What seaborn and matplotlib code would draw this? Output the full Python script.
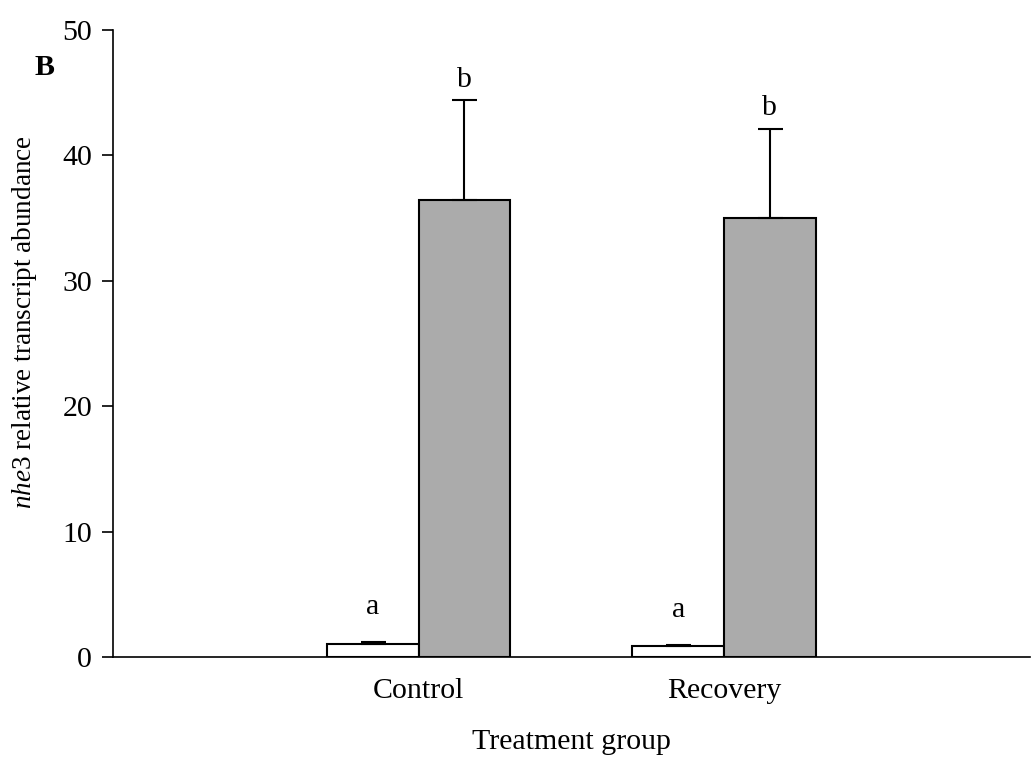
import matplotlib
matplotlib.use("Agg")
import matplotlib.pyplot as plt
import seaborn as sns
import pandas as pd
import numpy as np

groups = ["Control", "Recovery"]
conditions = ["Low", "High"]
low_means = [1.05, 0.85]
low_err = [0.12, 0.1]
high_means = [36.45, 35.0]
high_err = [7.95, 7.15]
letters_low = ["a", "a"]
letters_high = ["b", "b"]

df = pd.DataFrame({
    "group": groups * 2,
    "cond": [conditions[0]] * 2 + [conditions[1]] * 2,
    "value": low_means + high_means,
    "err": low_err + high_err,
    "letter": letters_low + letters_high,
})

sns.set_style("ticks")
plt.rcParams["font.family"] = ["Liberation Serif", "DejaVu Serif"]
plt.rcParams["mathtext.fontset"] = "custom"
plt.rcParams["mathtext.it"] = "Liberation Serif:italic"
plt.rcParams["mathtext.rm"] = "Liberation Serif"
plt.rcParams["text.color"] = "black"
plt.rcParams["axes.labelcolor"] = "black"
plt.rcParams["xtick.color"] = "black"
plt.rcParams["ytick.color"] = "black"
plt.rcParams["axes.edgecolor"] = "black"

FS = 21.5

fig = plt.figure(figsize=(10.31, 7.72), dpi=100)
ax = fig.add_axes([0.1096, 0.149, 0.889, 0.812])

sns.barplot(data=df, x="group", y="value", hue="cond", order=groups,
            hue_order=conditions, palette=["white", "#ababab"],
            width=0.6, edgecolor="black", linewidth=1.5, errorbar=None,
            legend=False, ax=ax)

letter_gap = {"Low": 1.75, "High": 0.6}
for patch_container, cond in zip(ax.containers, conditions):
    sub = df[df["cond"] == cond].set_index("group").loc[groups]
    for bar, (_, row) in zip(patch_container, sub.iterrows()):
        xc = bar.get_x() + bar.get_width() / 2
        h = bar.get_height()
        ax.errorbar([xc], [h], yerr=[[0], [row["err"]]], fmt="none",
                    ecolor="black", elinewidth=1.5, capsize=9, capthick=1.5)
        ax.text(xc, h + row["err"] + letter_gap[cond], row["letter"],
                ha="center", va="bottom", fontsize=FS)

ax.set_xlim(-1, 2)
ax.set_ylim(0, 50)
ax.set_yticks([0, 10, 20, 30, 40, 50])
ax.tick_params(axis="y", labelsize=FS, direction="out", length=8, width=1.2, pad=7)
ax.tick_params(axis="x", labelsize=FS, length=0, pad=15)
for s in ["top", "right"]:
    ax.spines[s].set_visible(False)
for s in ["left", "bottom"]:
    ax.spines[s].set_linewidth(1.2)
ax.set_xlabel("Treatment group", fontsize=FS, labelpad=18)
ax.set_ylabel(r"$\it{nhe3}$ relative transcript abundance", fontsize=19.5)
ax.yaxis.set_label_coords(-0.081, 0.534)
fig.text(0.033, 0.903, "B", fontsize=FS, fontweight="bold")

fig.savefig("out.png", dpi=100)
